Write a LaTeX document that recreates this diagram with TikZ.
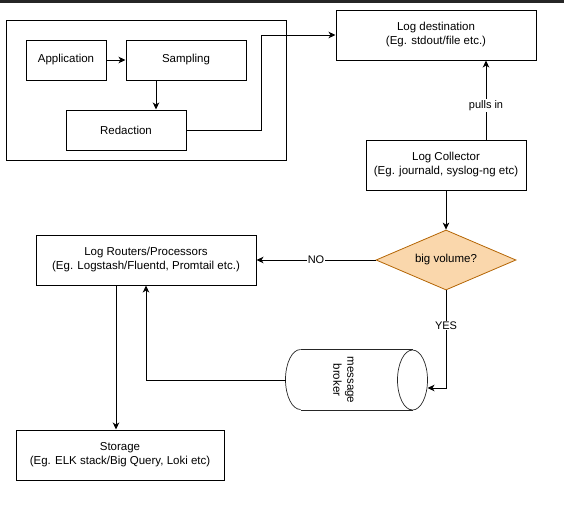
\documentclass[tikz,border=0pt]{standalone}
\usepackage{fontspec}
\setmainfont{Liberation Sans}
\usetikzlibrary{arrows.meta,shapes.geometric}
\definecolor{cDecide}{HTML}{FAD7AC}
\definecolor{cDecideLn}{HTML}{B46504}
\definecolor{cBar}{HTML}{262626}

\begin{document}
\begin{tikzpicture}[
  x=1pt, y=-1pt,
  font=\fontsize{11.5}{14}\selectfont,
  box/.style 2 args={draw=black, line width=1pt, minimum width=#1, minimum height=#2,
                     align=center, inner sep=0pt},
  flow/.style={-{Stealth[length=7pt,width=6.5pt,inset=2pt]}, line width=1pt},
  lbl/.style={fill=white, font=\fontsize{11}{13}\selectfont, inner sep=1pt},
  decide/.style={diamond, draw=cDecideLn, fill=cDecide, line width=.8pt, aspect=2.33,
                 minimum width=140pt, minimum height=60pt, inner sep=0pt},
  tank/.style={draw=black!85, line width=.7pt},
]
\useasboundingbox (0,0) rectangle (564,509);
\fill[cBar] (0,0) rectangle (564,2.5);

% ---------------- service side ----------------
\node[box={280pt}{140pt}] (host) at (146,90) {};
\node[box={80pt}{40pt}] (app) at (66,60) {Application};
\node[box={120pt}{40pt}] (sampling) at (186,60) {Sampling};
\node[box={120pt}{40pt}] (redact) at (126,130) {Redaction};

\draw[flow] (app) -- (sampling);
\draw[flow] ([xshift=-30pt]sampling.south) -- ([xshift=-30pt]sampling.south |- redact.north);

% ---------------- collection ----------------
\node[box={200pt}{50pt}] (dest) at (436,35) {Log destination\\(Eg. stdout/file etc.)};
\node[box={160pt}{50pt}] (collector) at (446,165) {Log Collector\\(Eg. journald, syslog-ng etc)};
\node[decide] (volume) at (446,260) {big volume?};

\draw[flow] (redact.east) -- ++(75,0) |- (dest.west);
\draw[flow] ([xshift=40pt]collector.north) -- node[lbl, pos=.43] {pulls in}
  ([xshift=40pt]collector.north |- dest.south);
\draw[flow] (collector) -- (volume);

% ---------------- message broker (drawn by hand) ----------------
\node[box={141pt}{60pt}, draw=none] (broker) at (356.5,380) {};
\draw[tank] ([xshift=15pt]broker.north west) -- ([xshift=-15pt]broker.north east);
\draw[tank] ([xshift=15pt]broker.south west) -- ([xshift=-15pt]broker.south east);
\draw[tank] ([xshift=15pt]broker.north west)
  arc[start angle=90, end angle=270, x radius=15pt, y radius=30pt];
\draw[tank] ([xshift=-15pt]broker.east) ellipse [x radius=15pt, y radius=30pt];
\node[rotate=-90, align=center, inner sep=0pt] (brokertxt) at ([xshift=-13pt]broker.center)
  {message\\broker};

% ---------------- routing and storage ----------------
\node[box={220pt}{50pt}] (routers) at (146,260)
  {Log Routers/Processors\\(Eg. Logstash/Fluentd, Promtail etc.)};
\node[box={208pt}{50pt}] (storage) at (120,455) {Storage\\(Eg. ELK stack/Big Query, Loki etc)};

\draw[flow] (volume) -- node[lbl] {NO} (routers);
\draw[flow] (volume.south) |- node[lbl, pos=.18] {YES} ([yshift=-8pt]broker.east);
\draw[flow] (broker.west) -| (routers.south);
\draw[flow] ([xshift=-30pt]routers.south) -- ([xshift=-30pt]routers.south |- storage.north);

\end{tikzpicture}
\end{document}
